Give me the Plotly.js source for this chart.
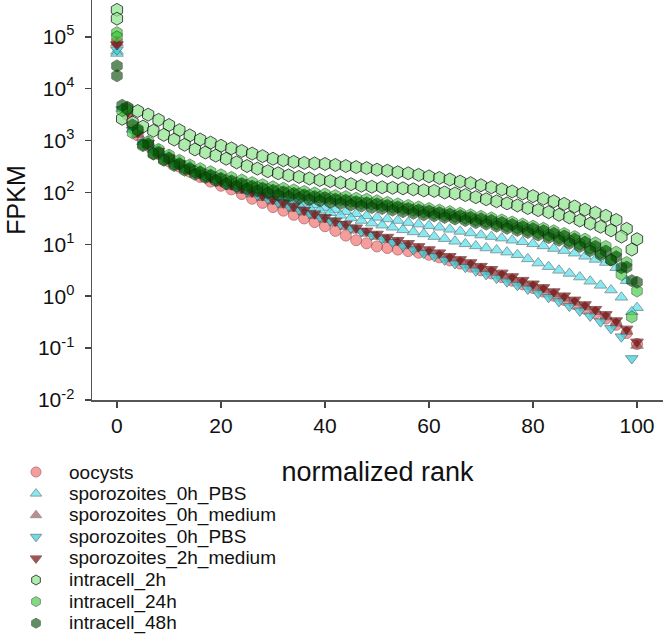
<!DOCTYPE html>
<html>
<head>
<meta charset="utf-8">
<script src="https://cdn.plot.ly/plotly-3.0.1.min.js"></script>
<style>html,body{margin:0;padding:0;background:#fff;}#chart{width:663px;height:634px;}</style>
</head>
<body>
<div id="chart"></div>
<script>
// normalized rank positions (two interleaved sampling grids for replicates)
const rankEven = [0,2,4,6,8,10,12,14,16,18,20,22,24,26,28,30,32,34,36,38,40,42,44,46,48,50,52,54,56,58,60,62,64,66,68,70,72,74,76,78,80,82,84,86,88,90,92,94,96,98,100];
const rankOdd  = [0,1,3,5,7,9,11,13,15,17,19,21,23,25,27,29,31,33,35,37,39,41,43,45,47,49,51,53,55,57,59,61,63,65,67,69,71,73,75,77,79,81,83,85,87,89,91,93,95,97,99];

// values, as log10(FPKM)
const oocysts_log10 = [4.90,3.50,3.10,2.90,2.74,2.60,2.50,2.40,2.30,2.21,
 2.13,2.06,1.97,1.88,1.80,1.72,1.65,1.57,1.50,1.43,
 1.35,1.26,1.17,1.08,1.02,0.96,0.93,0.90,0.87,0.84,
 0.80,0.75,0.69,0.63,0.57,0.50,0.44,0.37,0.30,0.23,
 0.16,0.09,0.01,-0.07,-0.15,-0.24,-0.33,-0.43,-0.55,-0.71,
 -0.92];
const spz0hPBSup_A_log10 = [4.72,3.58,3.20,2.98,2.83,2.71,2.60,2.51,2.42,2.34,
 2.27,2.20,2.14,2.08,2.02,1.96,1.91,1.86,1.81,1.76,
 1.71,1.67,1.63,1.59,1.55,1.52,1.49,1.46,1.42,1.39,
 1.36,1.33,1.29,1.25,1.22,1.18,1.15,1.12,1.08,1.05,
 1.01,0.97,0.92,0.88,0.83,0.77,0.71,0.65,0.55,0.30,
 -0.22];
const spz0hPBSup_B_log10 = [4.68,3.62,3.22,2.98,2.83,2.70,2.59,2.49,2.40,2.32,
 2.25,2.18,2.11,2.05,1.99,1.93,1.87,1.82,1.76,1.71,
 1.66,1.61,1.56,1.51,1.46,1.41,1.37,1.33,1.28,1.24,
 1.20,1.15,1.11,1.06,1.01,0.97,0.93,0.89,0.85,0.80,
 0.72,0.64,0.57,0.50,0.44,0.37,0.29,0.21,0.12,-0.02,
 -0.30];
const spz0hMedium_log10 = [4.88,3.52,3.12,2.92,2.77,2.64,2.53,2.43,2.34,2.26,
 2.18,2.11,2.04,1.97,1.90,1.83,1.76,1.69,1.62,1.55,
 1.48,1.41,1.34,1.27,1.21,1.15,1.09,1.03,0.97,0.91,
 0.85,0.79,0.72,0.66,0.60,0.53,0.47,0.40,0.33,0.26,
 0.19,0.12,0.04,-0.04,-0.12,-0.21,-0.30,-0.40,-0.52,-0.68,
 -0.95];
const spz0hPBSdown_log10 = [4.75,3.60,3.20,2.97,2.82,2.69,2.58,2.48,2.39,2.31,
 2.23,2.16,2.09,2.02,1.95,1.88,1.81,1.74,1.67,1.60,
 1.53,1.46,1.39,1.32,1.25,1.18,1.11,1.04,0.97,0.90,
 0.83,0.77,0.70,0.63,0.56,0.49,0.42,0.35,0.28,0.21,
 0.14,0.06,-0.02,-0.10,-0.19,-0.28,-0.38,-0.49,-0.62,-0.78,
 -1.20];
const spz2hMedium_log10 = [4.85,3.55,3.15,2.95,2.80,2.67,2.56,2.46,2.37,2.29,
 2.22,2.15,2.08,2.01,1.94,1.87,1.80,1.73,1.66,1.59,
 1.52,1.45,1.39,1.32,1.26,1.20,1.14,1.08,1.02,0.96,
 0.90,0.84,0.77,0.71,0.65,0.58,0.52,0.45,0.38,0.31,
 0.24,0.17,0.09,0.01,-0.07,-0.16,-0.25,-0.35,-0.47,-0.63,
 -0.88];
const intra2h_A_log10 = [5.52,3.63,3.57,3.50,3.40,3.30,3.20,3.10,3.02,2.96,
 2.90,2.85,2.80,2.75,2.70,2.65,2.62,2.59,2.57,2.56,
 2.55,2.53,2.51,2.49,2.47,2.44,2.42,2.39,2.37,2.34,
 2.31,2.28,2.25,2.21,2.18,2.14,2.10,2.06,2.02,1.98,
 1.93,1.88,1.83,1.78,1.73,1.67,1.61,1.55,1.47,1.30,
 1.10];
const intra2h_B_log10 = [5.35,3.42,3.35,3.27,3.19,3.11,3.02,2.92,2.83,2.77,
 2.71,2.65,2.58,2.51,2.46,2.41,2.37,2.33,2.30,2.27,
 2.24,2.22,2.19,2.16,2.13,2.11,2.10,2.09,2.08,2.06,
 2.04,2.03,2.00,1.98,1.95,1.91,1.87,1.83,1.79,1.75,
 1.70,1.66,1.62,1.57,1.52,1.46,1.40,1.34,1.27,1.15,
 0.90];
const intra24h_A_log10 = [5.08,3.60,3.22,2.98,2.83,2.72,2.62,2.53,2.46,2.40,
 2.34,2.29,2.24,2.19,2.15,2.11,2.08,2.05,2.02,1.99,
 1.97,1.94,1.92,1.89,1.87,1.84,1.81,1.78,1.75,1.72,
 1.69,1.66,1.63,1.60,1.57,1.54,1.51,1.47,1.43,1.39,
 1.35,1.31,1.26,1.21,1.15,1.10,1.03,0.96,0.85,0.65,
 0.10];
const intra24h_B_log10 = [5.00,3.58,3.15,2.90,2.75,2.64,2.55,2.47,2.40,2.34,
 2.28,2.23,2.18,2.14,2.10,2.06,2.03,2.00,1.97,1.94,
 1.91,1.88,1.86,1.83,1.80,1.78,1.75,1.72,1.69,1.66,
 1.63,1.60,1.57,1.54,1.51,1.47,1.44,1.40,1.36,1.32,
 1.28,1.23,1.18,1.13,1.07,1.01,0.93,0.84,0.70,0.42,
 -0.40];
const intra48h_A_log10 = [4.44,3.62,3.20,2.93,2.77,2.66,2.55,2.46,2.39,2.33,
 2.27,2.22,2.17,2.12,2.08,2.04,2.01,1.98,1.95,1.92,
 1.90,1.87,1.85,1.82,1.80,1.78,1.75,1.72,1.69,1.66,
 1.64,1.61,1.58,1.55,1.52,1.49,1.46,1.42,1.38,1.34,
 1.30,1.26,1.21,1.16,1.10,1.04,0.96,0.87,0.76,0.56,
 0.27];
const intra48h_B_log10 = [4.25,3.68,3.30,2.92,2.74,2.62,2.52,2.43,2.35,2.29,
 2.23,2.17,2.12,2.07,2.03,1.99,1.95,1.92,1.89,1.86,
 1.84,1.81,1.79,1.76,1.74,1.71,1.69,1.66,1.63,1.60,
 1.57,1.55,1.52,1.49,1.46,1.42,1.39,1.35,1.31,1.27,
 1.23,1.18,1.13,1.08,1.02,0.96,0.88,0.80,0.70,0.55,
 0.30];

const yTickVals = [1e-2,1e-1,1e0,1e1,1e2,1e3,1e4,1e5];
const yTickText = ['10<sup>-2</sup>','10<sup>-1</sup>','10<sup>0</sup>','10<sup>1</sup>','10<sup>2</sup>','10<sup>3</sup>','10<sup>4</sup>','10<sup>5</sup>'];
const xTickVals = [0,20,40,60,80,100];

// series styles (legend order)
const legendNames = ['oocysts','sporozoites_0h_PBS','sporozoites_0h_medium','sporozoites_0h_PBS','sporozoites_2h_medium','intracell_2h','intracell_24h','intracell_48h'];
const styles = [
  {sym:'circle',        size:11, color:'#f06a6a', line:'#9a3a3a', op:0.65},
  {sym:'triangle-up',   size:11, color:'#5fe3ee', line:'#5a7f84', op:0.75},
  {sym:'triangle-up',   size:11, color:'#8a4444', line:'#6a4a4a', op:0.6},
  {sym:'triangle-down', size:11, color:'#3fd0dc', line:'#4a7076', op:0.75},
  {sym:'triangle-down', size:11, color:'#7a0c0c', line:'#5a2020', op:0.7},
  {sym:'hexagon',       size:13, color:'#8ee68e', line:'#000000', op:0.72},
  {sym:'hexagon',       size:12, color:'#2fc42f', line:'#1f4f1f', op:0.6},
  {sym:'hexagon',       size:12, color:'#004a00', line:'#0f2f0f', op:0.62}
];

const toFPKM = a => a.map(v => Math.pow(10, v));

function tr(idx, x, ylog) {
  const s = styles[idx];
  return {
    type: 'scatter', mode: 'markers', name: legendNames[idx], x: x, y: toFPKM(ylog),
    xaxis: 'x', yaxis: 'y', showlegend: false, hoverinfo: 'skip', cliponaxis: false,
    marker: {symbol: s.sym, size: s.size, color: s.color, opacity: s.op,
             line: {color: s.line, width: 1}}
  };
}

const data = [
  tr(0, rankEven, oocysts_log10),
  tr(1, rankEven, spz0hPBSup_A_log10),
  tr(1, rankOdd,  spz0hPBSup_B_log10),
  tr(2, rankEven, spz0hMedium_log10),
  tr(3, rankOdd,  spz0hPBSdown_log10),
  tr(4, rankEven, spz2hMedium_log10),
  tr(5, rankEven, intra2h_A_log10),
  tr(5, rankOdd,  intra2h_B_log10),
  tr(6, rankEven, intra24h_A_log10),
  tr(6, rankOdd,  intra24h_B_log10),
  tr(7, rankEven, intra48h_A_log10),
  tr(7, rankOdd,  intra48h_B_log10)
];

// hand-built legend (pixel-space overlay axes), so that its size and spacing match
const W = 663, H = 634;
const legMarkerX = 36, legTextX = 67, legFirstY = 472, legGap = 21.6;
const legY = legendNames.map((_, i) => legFirstY + i * legGap);
data.push({
  type: 'scatter', mode: 'markers', xaxis: 'x2', yaxis: 'y2', showlegend: false,
  hoverinfo: 'skip', cliponaxis: false,
  x: legendNames.map(() => legMarkerX), y: legY,
  marker: {
    symbol: styles.map(s => s.sym), size: styles.map(() => 10),
    color: styles.map(s => s.color), opacity: styles.map(s => s.op),
    line: {color: styles.map(s => s.line), width: 1}
  }
});
const annotations = legendNames.map((n, i) => ({
  text: n, xref: 'paper', yref: 'paper', x: legTextX / W, y: 1 - legY[i] / H,
  xanchor: 'left', yanchor: 'middle', showarrow: false,
  font: {size: 19, color: '#111'}
}));

const layout = {
  width: W, height: H,
  margin: {l: 0, r: 0, t: 0, b: 0, pad: 0},
  paper_bgcolor: '#fff', plot_bgcolor: 'rgba(0,0,0,0)',
  font: {family: '"Liberation Sans", Arial, sans-serif', color: '#111'},
  showlegend: false,
  xaxis: {
    domain: [92 / W, 1], anchor: 'y',
    range: [-4.8, 105], tickvals: xTickVals, ticks: 'outside', ticklen: 6, tickwidth: 1.5,
    tickcolor: '#444', showline: true, linecolor: '#555', linewidth: 1.5,
    showgrid: false, zeroline: false, tickfont: {size: 21}, automargin: false,
    title: {text: 'normalized rank', font: {size: 27}, standoff: 26}
  },
  yaxis: {
    domain: [1 - 400 / H, 1], anchor: 'x',
    type: 'log', range: [-2, 5.71], tickvals: yTickVals, ticktext: yTickText,
    ticks: 'outside', ticklen: 6, tickwidth: 1.5, tickcolor: '#444', ticklabelstandoff: 6,
    showline: true, linecolor: '#555', linewidth: 1.5,
    showgrid: false, zeroline: false, tickfont: {size: 21}, automargin: false,
    title: {text: 'FPKM', font: {size: 25}, standoff: 5}
  },
  xaxis2: {domain: [0, 1], anchor: 'y2', range: [0, W], visible: false, fixedrange: true},
  yaxis2: {domain: [0, 1], anchor: 'x2', range: [H, 0], visible: false, fixedrange: true},
  annotations: annotations
};

Plotly.newPlot('chart', data, layout, {displayModeBar: false, staticPlot: true});
</script>
</body>
</html>
